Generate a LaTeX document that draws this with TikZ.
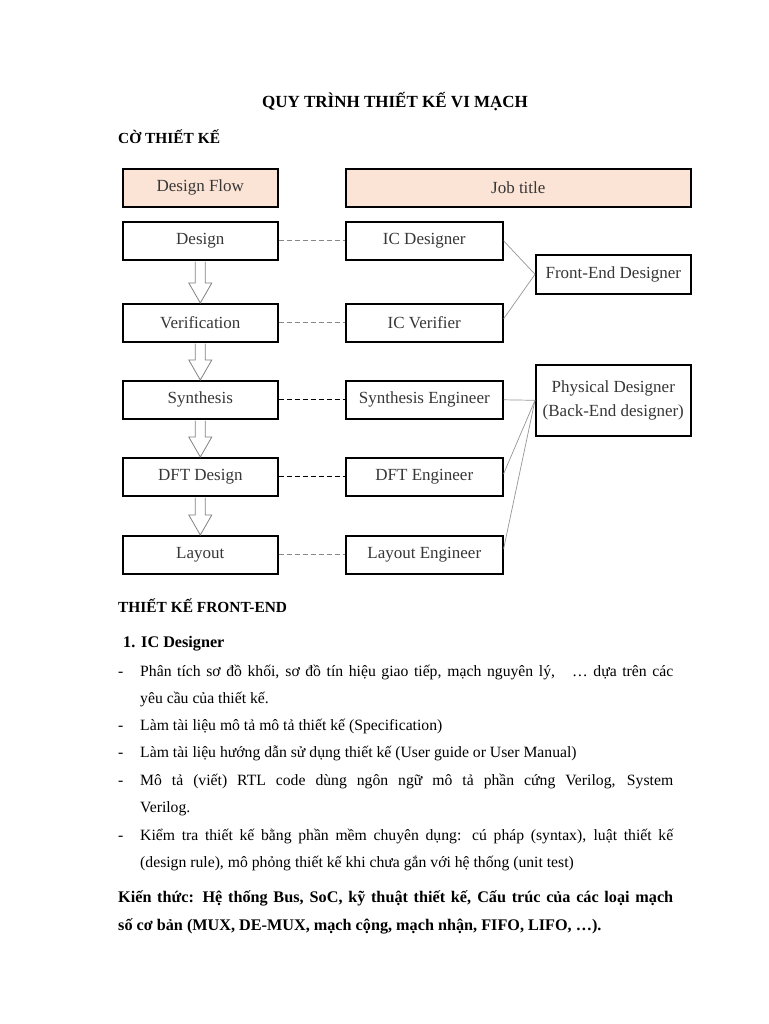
\documentclass[tikz,border=0pt]{standalone}
\usepackage{fontspec}
\setmainfont{Liberation Serif}
\usetikzlibrary{calc}
\definecolor{peach}{RGB}{251,228,213}
\definecolor{boxtext}{RGB}{55,55,55}
\definecolor{arrgray}{RGB}{130,130,130}
\definecolor{dashgray}{RGB}{135,135,135}
\definecolor{linegray}{RGB}{150,150,150}
\begin{document}
\begin{tikzpicture}[x=1pt,y=-1pt,
  box/.style={draw=black, line width=1.6pt, minimum width=155pt, minimum height=38pt,
    inner sep=0pt, font=\fontsize{17}{24}\selectfont, text=boxtext, anchor=north west, align=center},
  head/.style={fill=peach},
  dashgray/.style={draw=dashgray, line width=0.9pt, dash pattern=on 5pt off 3pt},
  dashblack/.style={draw=black, line width=0.9pt, dash pattern=on 5pt off 3pt},
  thinline/.style={draw=linegray, line width=0.7pt},
  barrow/.style={draw=arrgray, line width=0.8pt, line join=miter},
  txt/.style={anchor=base west, inner sep=0pt, font=\fontsize{15.7}{18}\selectfont},
  btxt/.style={txt, font=\fontsize{16.2}{18}\selectfont\bfseries},
  hd/.style={anchor=base west, inner sep=0pt, font=\fontsize{15.4}{18}\selectfont\bfseries},
  ttl/.style={anchor=base, inner sep=0pt, font=\fontsize{17}{20}\selectfont\bfseries}
]
\useasboundingbox (0,0) rectangle (768,1024);
\fill[white] (0,0) rectangle (768,1024);

% headings
\node[ttl] (title) at (395,108) {QUY TRÌNH THIẾT KẾ VI MẠCH};
\node[hd] (co) at (118,144) {CỜ THIẾT KẾ};

% boxes
\node[box, head] (df) at (122,168) {Design Flow};
\node[box, head, minimum width=345pt] (jt) at (345,168) {Job title};
\node[box] (d) at (122,221) {Design};
\node[box, minimum width=157pt] (icd) at (345,221) {IC Designer};
\node[box, minimum height=39pt] (fe) at (535,254) {Front-End Designer};
\node[box] (v) at (122,303) {Verification};
\node[box, minimum width=157pt] (icv) at (345,303) {IC Verifier};
\node[box] (s) at (122,380) {Synthesis};
\node[box, minimum width=157pt] (se) at (345,380) {Synthesis Engineer};
\node[box, minimum height=71pt] (pd) at (535,364) {Physical Designer\\(Back-End designer)};
\node[box] (dft) at (122,457) {DFT Design};
\node[box, minimum width=157pt] (dfte) at (345,457) {DFT Engineer};
\node[box] (l) at (122,535) {Layout};
\node[box, minimum width=157pt] (le) at (345,535) {Layout Engineer};

% dashed links
\draw[dashgray] (d.east) -- (icd.west);
\draw[dashgray] (v.east) -- (icv.west);
\draw[dashblack] (s.east) -- (se.west);
\draw[dashblack] (dft.east) -- (dfte.west);
\draw[dashgray] (l.east) -- (le.west);

% role links
\draw[thinline] (icd.east) -- (fe.west);
\draw[thinline] ($(icv.east)+(0,-4)$) -- (fe.west);
\draw[thinline] (se.east) -- (pd.west);
\draw[thinline] ($(dfte.east)+(0,-3)$) -- (pd.west);
\draw[thinline] ($(le.east)+(0,-6)$) -- (pd.west);

% block arrows
\newcommand\blockarr[2]{%
  \draw[barrow] ($(#1.south)+(-5,1)$) -- ($(#2.north)+(-5,-20)$) -- ($(#2.north)+(-11.5,-20)$)
    -- (#2.north) -- ($(#2.north)+(11.5,-20)$) -- ($(#2.north)+(5,-20)$) -- ($(#1.south)+(5,1)$);}
\blockarr{d}{v}
\blockarr{v}{s}
\blockarr{s}{dft}
\blockarr{dft}{l}

% section text
\node[hd] (fr) at (118,612) {THIẾT KẾ FRONT-END};
\node[btxt] (n1) at (123,647) {1.};
\node[btxt] (n1t) at (141,647) {IC Designer};

\node[txt] (b1) at (118,676) {-};
\node[txt] (t1) at (140,676) {\makebox[533pt][s]{Phân tích sơ đồ khối, sơ đồ tín hiệu giao tiếp, mạch nguyên lý, \ \ … dựa trên các}};
\node[txt] (t2) at (140,703) {yêu cầu của thiết kế.};
\node[txt] (b3) at (118,730) {-};
\node[txt] (t3) at (140,730) {Làm tài liệu mô tả mô tả thiết kế (Specification)};
\node[txt] (b4) at (118,757) {-};
\node[txt] (t4) at (140,757) {Làm tài liệu hướng dẫn sử dụng thiết kế (User guide or User Manual)};
\node[txt] (b5) at (118,785) {-};
\node[txt] (t5) at (140,785) {\makebox[533pt][s]{Mô tả (viết) RTL code dùng ngôn ngữ mô tả phần cứng Verilog, System}};
\node[txt] (t6) at (140,812) {Verilog.};
\node[txt] (b7) at (118,840) {-};
\node[txt] (t7) at (140,840) {\makebox[533pt][s]{Kiểm tra thiết kế bằng phần mềm chuyên dụng: cú pháp (syntax), luật thiết kế}};
\node[txt] (t8) at (140,867) {(design rule), mô phỏng thiết kế khi chưa gắn với hệ thống (unit test)};

\node[btxt] (k1) at (118,902) {\makebox[555pt][s]{Kiến thức: Hệ thống Bus, SoC, kỹ thuật thiết kế, Cấu trúc của các loại mạch}};
\node[btxt] (k2) at (118,930) {số cơ bản (MUX, DE-MUX, mạch cộng, mạch nhận, FIFO, LIFO, …).};
\end{tikzpicture}
\end{document}
